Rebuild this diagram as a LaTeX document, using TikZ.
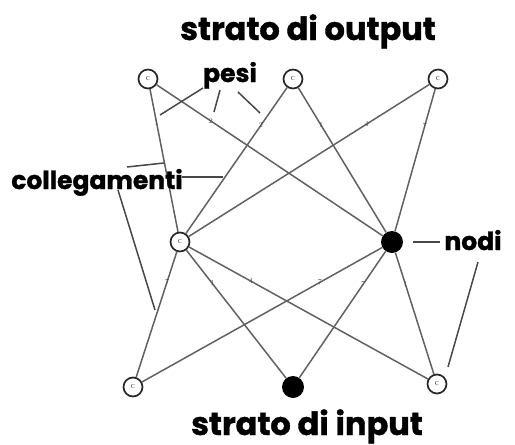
\documentclass[tikz,border=0pt]{standalone}
\usepackage{fontspec}
\newfontfamily\labfont{Poppins}[BoldFeatures={FakeBold=1.2}]
\begin{document}
\begin{tikzpicture}[x=1pt,y=-1pt,
  link/.style={draw=black!62, line width=1.5pt},
  ptr/.style={draw=black!72, line width=1.5pt},
  hnode/.style={circle, draw=black!85, fill=white, line width=1.7pt, minimum size=19pt, inner sep=0pt,
    font=\fontsize{9}{9}\selectfont, text=black!75},
  fnode/.style={circle, fill=black, minimum size=22pt, inner sep=0pt},
  wt/.style={font=\fontsize{7.5}{7.5}\selectfont, text=black!70, inner sep=0pt},
  bigtitle/.style={font=\labfont\bfseries\fontsize{32}{32}\selectfont, inner sep=0pt, anchor=base},
  midtitle/.style={font=\labfont\bfseries\fontsize{25}{25}\selectfont, inner sep=0pt, anchor=base}]
\useasboundingbox (0,0) rectangle (515,445);
% nodes
\node[hnode] (T1) at (148,79) {c};
\node[hnode] (T2) at (293,79) {c};
\node[hnode] (T3) at (438,79) {c};
\node[hnode] (H1) at (180,242) {c};
\node[fnode] (H2) at (392,242) {};
\node[hnode] (B1) at (133,387) {c};
\node[fnode] (B2) at (293,387) {};
\node[hnode] (B3) at (437,384) {c};
% connections with weights
\draw[link] (T1) -- node[wt,pos=0.24]{1} (H1);
\draw[link] (T1) -- node[wt,pos=0.24]{2} (H2);
\draw[link] (T2) -- node[wt,pos=0.26]{2} (H1);
\draw[link] (T2) -- node[wt,pos=0.26]{1} (H2);
\draw[link] (T3) -- node[wt,pos=0.26]{4} (H1);
\draw[link] (T3) -- node[wt,pos=0.26]{7} (H2);
\draw[link] (H1) -- node[wt,pos=0.24]{7} (B1);
\draw[link] (H1) -- node[wt,pos=0.26]{1} (B2);
\draw[link] (H1) -- node[wt,pos=0.26]{4} (B3);
\draw[link] (H2) -- node[wt,pos=0.26]{7} (B1);
\draw[link] (H2) -- node[wt,pos=0.26]{7} (B2);
\draw[link] (H2) -- node[wt,pos=0.26]{1} (B3);
% titles
\node[bigtitle] (out) at (308,40) {strato di output};
\node[bigtitle] (inp) at (307,435) {strato di input};
\node[midtitle] (pesi) at (230,82) {pesi};
\node[midtitle] (coll) at (97,189) {collegamenti};
\node[midtitle] (nodi) at (473,250) {nodi};
% pointer coordinates
\coordinate (p1a) at (203,88); \coordinate (p1b) at (160,115);
\coordinate (p2a) at (220,90); \coordinate (p2b) at (214,112);
\coordinate (p3a) at (238,92); \coordinate (p3b) at (260,113);
\coordinate (c1a) at (127,167); \coordinate (c1b) at (164,163);
\coordinate (c2a) at (182,177); \coordinate (c2b) at (223,177);
\coordinate (c3a) at (118,190); \coordinate (c3b) at (155,310);
\coordinate (n1a) at (413,242); \coordinate (n1b) at (440,242);
\coordinate (n2a) at (478,262); \coordinate (n2b) at (448,367);
\draw[ptr] (p1a) -- (p1b);
\draw[ptr] (p2a) -- (p2b);
\draw[ptr] (p3a) -- (p3b);
\draw[ptr] (c1a) -- (c1b);
\draw[ptr] (c2a) -- (c2b);
\draw[ptr] (c3a) -- (c3b);
\draw[ptr] (n1a) -- (n1b);
\draw[ptr] (n2a) -- (n2b);
\end{tikzpicture}
\end{document}
